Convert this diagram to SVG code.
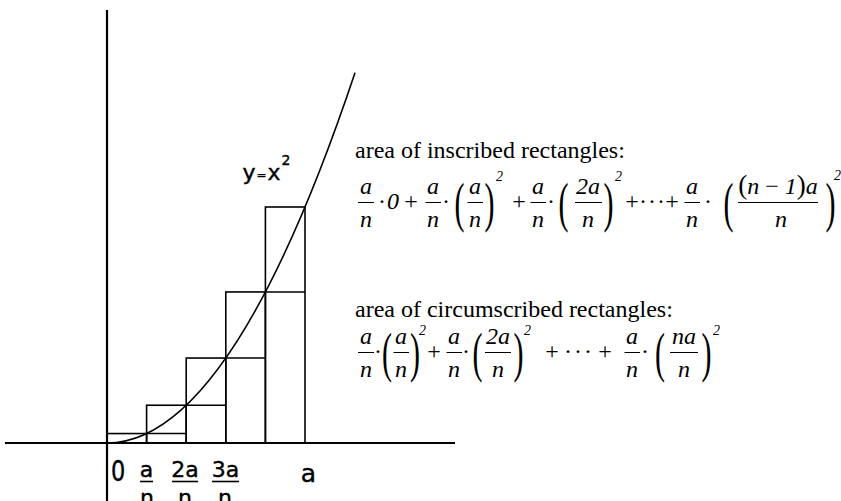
<svg xmlns="http://www.w3.org/2000/svg" width="841" height="501" viewBox="0 0 841 501">
<style>
.ax{stroke:#000;stroke-width:2.2;fill:none}
.ln{stroke:#000;stroke-width:1.6;fill:none}
.bar{stroke:#000;stroke-width:1}
.gbar{stroke:#000;stroke-width:1.6}
.gf{font-family:"DejaVu Sans",sans-serif;fill:#000;stroke:#000;stroke-width:0.4}
.tx{font-family:"Liberation Serif","Times New Roman",serif;font-size:24px;fill:#000}
.it{font-style:italic}
.sup{font-size:14px;font-style:italic}
.pr{font-size:30px;font-style:normal}
.mid{text-anchor:middle}
</style>
<rect width="841" height="501" fill="#fff"/>

<g id="axes">
<line class="ax" x1="107" y1="10" x2="107" y2="501"/>
<line class="ax" x1="5" y1="443" x2="455" y2="443"/>
</g>

<g id="rectangles">
<rect class="ln" x="107" y="433.56" width="39.6" height="9.44"/>
<rect class="ln" x="146.6" y="405.24" width="39.6" height="37.76"/>
<rect class="ln" x="186.2" y="358.04" width="39.6" height="84.96"/>
<rect class="ln" x="225.8" y="291.96" width="39.6" height="151.04"/>
<rect class="ln" x="265.4" y="207" width="39.6" height="236"/>
<line class="ln" x1="146.6" y1="433.56" x2="186.2" y2="433.56"/>
<line class="ln" x1="186.2" y1="405.24" x2="225.8" y2="405.24"/>
<line class="ln" x1="225.8" y1="358.04" x2="265.4" y2="358.04"/>
<line class="ln" x1="265.4" y1="291.96" x2="305" y2="291.96"/>
</g>

<g id="curve">
<path class="ln" d="M107,443 Q231,443 355,72.8"/>
<text class="gf"><tspan x="242.5" y="180" font-size="22">y</tspan><tspan x="256.5" y="179" font-size="12">=</tspan><tspan x="267.5" y="180" font-size="22">x</tspan><tspan x="281.5" y="165" font-size="14">2</tspan></text>
</g>

<g id="axis-labels" class="gf">
<text font-size="28" transform="translate(111,481) scale(0.8,1)">0</text>
<text x="146.5" y="477" font-size="22" class="mid">a</text>
<line class="gbar" x1="140" y1="481.5" x2="153" y2="481.5"/>
<text x="147" y="505" font-size="22" class="mid">n</text>
<text x="185" y="477" font-size="22" class="mid">2a</text>
<line class="gbar" x1="172" y1="481.5" x2="198" y2="481.5"/>
<text x="185" y="505" font-size="22" class="mid">n</text>
<text x="225.5" y="477" font-size="22" class="mid">3a</text>
<line class="gbar" x1="212" y1="481.5" x2="239" y2="481.5"/>
<text x="225" y="505" font-size="22" class="mid">n</text>
<text x="308.5" y="482" font-size="25" class="mid">a</text>
</g>

<g id="inscribed">
<text class="tx" x="355" y="158">area of inscribed rectangles:</text>
<g class="tx">
<text class="it mid" x="366" y="194">a</text><line class="bar" x1="358" y1="202.5" x2="374" y2="202.5"/><text class="it mid" x="366" y="227">n</text>
<text class="mid" x="382" y="209">·</text>
<text class="it mid" x="393" y="209">0</text>
<text class="mid" x="411" y="209">+</text>
<text class="it mid" x="433" y="194">a</text><line class="bar" x1="425.5" y1="202.5" x2="441" y2="202.5"/><text class="it mid" x="433" y="227">n</text>
<text class="mid" x="446" y="209">·</text>
<text class="pr" transform="translate(454.6,221) scale(1,1.85)">(</text>
<text class="it mid" x="475" y="194">a</text><line class="bar" x1="467.5" y1="202.5" x2="483" y2="202.5"/><text class="it mid" x="475" y="227">n</text>
<text class="pr" transform="translate(484.5,221) scale(1,1.85)">)</text>
<text class="sup" x="496" y="181">2</text>
<text class="mid" x="519" y="209">+</text>
<text class="it mid" x="538" y="194">a</text><line class="bar" x1="530.5" y1="202.5" x2="546" y2="202.5"/><text class="it mid" x="538" y="227">n</text>
<text class="mid" x="551" y="209">·</text>
<text class="pr" transform="translate(558.6,221) scale(1,1.85)">(</text>
<text class="it mid" x="588" y="194">2a</text><line class="bar" x1="575" y1="202.5" x2="602" y2="202.5"/><text class="it mid" x="588" y="227">n</text>
<text class="pr" transform="translate(603.5,221) scale(1,1.85)">)</text>
<text class="sup" x="615" y="181">2</text>
<text class="mid" x="632" y="209">+</text>
<text class="mid" x="643 652 661" y="209">···</text>
<text class="mid" x="672" y="209">+</text>
<text class="it mid" x="692" y="194">a</text><line class="bar" x1="684.5" y1="202.5" x2="700" y2="202.5"/><text class="it mid" x="692" y="227">n</text>
<text class="mid" x="708" y="209">·</text>
<text class="pr" transform="translate(723.6,221) scale(1,1.85)">(</text>
<text class="mid" x="778" y="194"><tspan font-size="27">(</tspan><tspan class="it">n</tspan> − <tspan class="it">1</tspan><tspan font-size="27">)</tspan><tspan class="it">a</tspan></text>
<line class="bar" x1="738" y1="202.5" x2="818" y2="202.5"/><text class="it mid" x="781" y="227">n</text>
<text class="pr" transform="translate(825.5,221) scale(1,1.85)">)</text>
<text class="sup" x="834" y="180">2</text>
</g>
</g>

<g id="circumscribed">
<text class="tx" x="355" y="317">area of circumscribed rectangles:</text>
<g class="tx">
<text class="it mid" x="366" y="344">a</text><line class="bar" x1="358" y1="352.5" x2="374" y2="352.5"/><text class="it mid" x="366" y="377">n</text>
<text class="mid" x="378" y="359">·</text>
<text class="pr" transform="translate(382,371) scale(1,1.85)">(</text>
<text class="it mid" x="401" y="344">a</text><line class="bar" x1="393.5" y1="352.5" x2="409" y2="352.5"/><text class="it mid" x="401" y="377">n</text>
<text class="pr" transform="translate(410,371) scale(1,1.85)">)</text>
<text class="sup" x="419" y="335">2</text>
<text class="mid" x="434" y="359">+</text>
<text class="it mid" x="454" y="344">a</text><line class="bar" x1="446.5" y1="352.5" x2="462" y2="352.5"/><text class="it mid" x="454" y="377">n</text>
<text class="mid" x="466" y="359">·</text>
<text class="pr" transform="translate(472.6,371) scale(1,1.85)">(</text>
<text class="it mid" x="498" y="344">2a</text><line class="bar" x1="485" y1="352.5" x2="511" y2="352.5"/><text class="it mid" x="498" y="377">n</text>
<text class="pr" transform="translate(513.5,371) scale(1,1.85)">)</text>
<text class="sup" x="524" y="335">2</text>
<text class="mid" x="552" y="359">+</text>
<text class="mid" x="568 578 588" y="359">···</text>
<text class="mid" x="605" y="359">+</text>
<text class="it mid" x="632" y="344">a</text><line class="bar" x1="624.5" y1="352.5" x2="640" y2="352.5"/><text class="it mid" x="632" y="377">n</text>
<text class="mid" x="645" y="359">·</text>
<text class="pr" transform="translate(655,371) scale(1,1.85)">(</text>
<text class="it mid" x="684" y="344">na</text><line class="bar" x1="670" y1="352.5" x2="698" y2="352.5"/><text class="it mid" x="684" y="377">n</text>
<text class="pr" transform="translate(701.5,371) scale(1,1.85)">)</text>
<text class="sup" x="713" y="335">2</text>
</g>
</g>
</svg>
